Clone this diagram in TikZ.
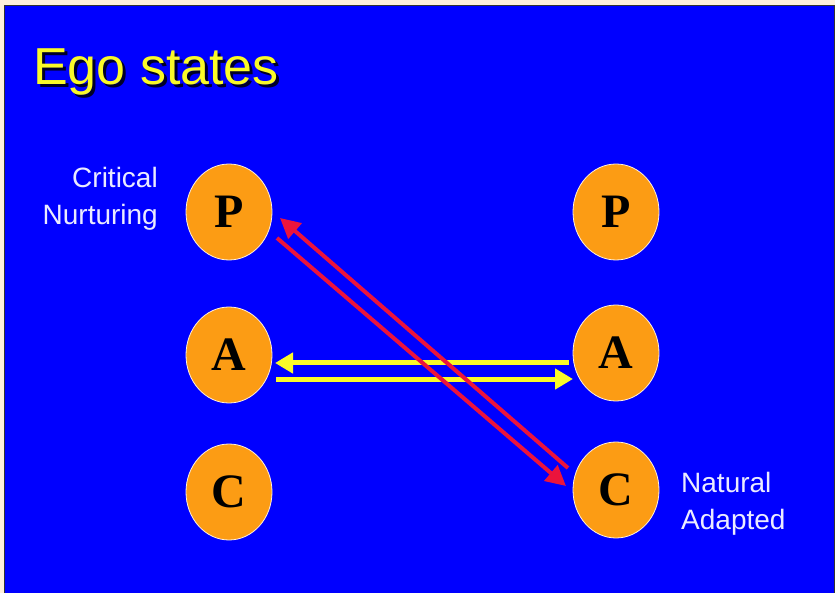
\documentclass[tikz,border=0pt]{standalone}
\usepackage{fontspec}
\setmainfont{Liberation Sans}
\newfontfamily\serifb{Liberation Serif}
\usetikzlibrary{arrows.meta,shapes.geometric}
\definecolor{bgblue}{RGB}{0,0,255}
\definecolor{cream}{RGB}{255,240,220}
\definecolor{egoorange}{RGB}{252,156,20}
\definecolor{labelwhite}{RGB}{235,235,255}
\definecolor{ylw}{RGB}{250,250,40}
\definecolor{rd}{RGB}{235,20,60}
\tikzset{
  ego/.style={ellipse, fill=egoorange, draw=cream, line width=0.8pt,
    minimum width=86pt, minimum height=96pt, inner sep=0pt,
    font=\serifb\bfseries\fontsize{48}{48}\selectfont, text=black},
  lbl/.style={font=\fontsize{28}{37}\selectfont, text=labelwhite, inner sep=0pt},
  yarrow/.style={draw=ylw, line width=5pt, -{Triangle[length=18pt,width=20pt]}},
  rarrow/.style={draw=rd, line width=4pt, -{Triangle[length=20pt,width=20pt]}}
}
\begin{document}
\begin{tikzpicture}[x=1pt,y=-1pt]
\fill[cream] (0,0) rectangle (835,593);
\useasboundingbox (0,0) rectangle (835,593);
\fill[bgblue] (4,6) rectangle (834,593);
\draw[black!80, line width=1pt] (4,593) -- (4,5.5) -- (834,5.5) -- (834,593);
% title with shadow
\node[anchor=base west, inner sep=0pt, font=\fontsize{52}{52}\selectfont, text=black!85!blue] at (36,88) {Ego states};
\node[anchor=base west, inner sep=0pt, font=\fontsize{52}{52}\selectfont, text=ylw] (title) at (33,85) {Ego states};
% ego states
\node[ego] (lp) at (229,212) {P};
\node[ego] (la) at (229,355) {A};
\node[ego] (lc) at (229,492) {C};
\node[ego] (rp) at (616,212) {P};
\node[ego] (ra) at (616,353) {A};
\node[ego] (rc) at (616,490) {C};
% labels
\node[lbl, align=right, anchor=base east] (crit) at (158,225) {Critical\\Nurturing};
\node[lbl, align=left, anchor=base west] (nat) at (681,529) {Natural\\Adapted};
% yellow arrows
\coordinate (ya1) at (569,363);
\coordinate (ya2) at (275,363);
\coordinate (yb1) at (276,379);
\coordinate (yb2) at (573,379);
\draw[yarrow] (ya1) -- (ya2);
\draw[yarrow] (yb1) -- (yb2);
% red arrows
\coordinate (ra1) at (568,468);
\coordinate (ra2) at (280,218);
\coordinate (rb1) at (277,238);
\coordinate (rb2) at (566,486);
\draw[rarrow] (ra1) -- (ra2);
\draw[rarrow] (rb1) -- (rb2);
\end{tikzpicture}
\end{document}
